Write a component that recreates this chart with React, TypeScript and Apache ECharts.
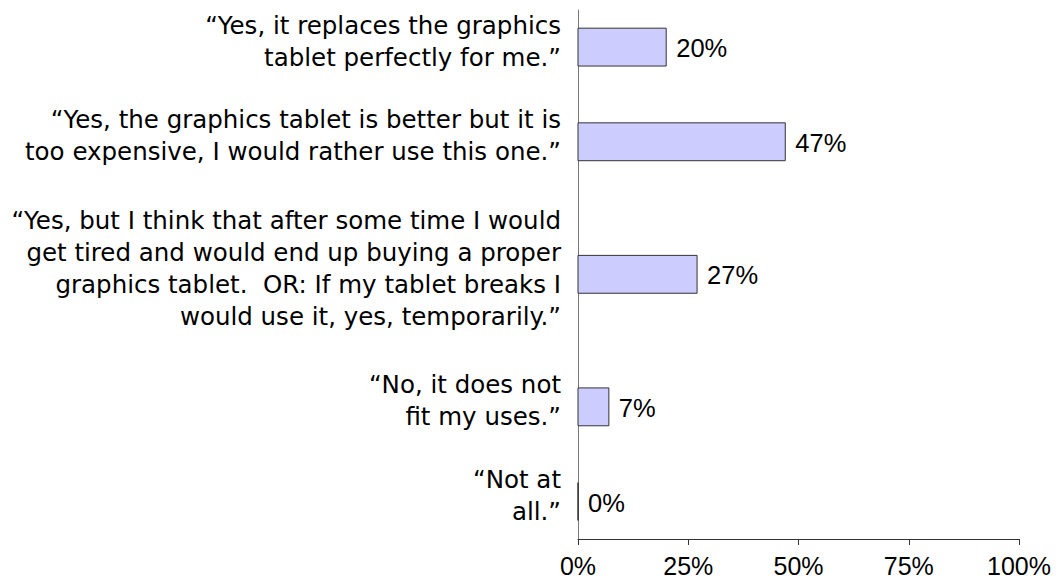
import React, { useEffect, useRef } from "react";
import * as echarts from "echarts";

const categories: string[] = [
  "“Yes, it replaces the graphics\ntablet perfectly for me.”",
  "“Yes, the graphics tablet is better but it is\ntoo expensive, I would rather use this one.”",
  "“Yes, but I think that after some time I would\nget tired and would end up buying a proper\ngraphics tablet.  OR: If my tablet breaks I\nwould use it, yes, temporarily.”",
  "“No, it does not\nfit my uses.”",
  "“Not at\nall.”",
];
const percentages: number[] = [20, 47, 27, 7, 0];
const xTicks: number[] = [0, 25, 50, 75, 100];

const CAT_FONT = "DejaVu Sans";
const NUM_FONT = "Liberation Sans";

export default function App() {
  const ref = useRef<HTMLDivElement>(null);
  useEffect(() => {
    if (!ref.current) return;
    const chart = echarts.init(ref.current, undefined, { renderer: "svg" });
    // row position derived from the number of label lines (each row takes lines + 0.5 units)
    const lines = categories.map((c) => c.split("\n").length);
    const centers: number[] = [];
    let acc = 0;
    lines.forEach((n, i) => {
      const h = n + 0.5;
      if (i === 0) acc = h / 2;
      else acc += (lines[i - 1] + 0.5) / 2 + h / 2;
      centers.push(acc);
    });
    const yMin = centers[0] - 0.98;
    const yMax = centers[centers.length - 1] + 0.99;

    chart.setOption({
      animation: false,
      grid: { left: 578, right: 43, top: 10, bottom: 45, containLabel: false },
      xAxis: {
        type: "value",
        min: 0,
        max: 100,
        interval: 25,
        axisLine: { show: true, lineStyle: { color: "#333", width: 1 } },
        axisTick: { show: true, length: 6, lineStyle: { color: "#333" } },
        splitLine: { show: false },
        axisLabel: {
          formatter: (v: number) => (xTicks.includes(v) ? `${v}%` : ""),
          color: "#000",
          fontFamily: NUM_FONT,
          fontSize: 25,
          margin: 14,
        },
      },
      yAxis: {
        type: "value",
        inverse: true,
        min: yMin,
        max: yMax,
        axisLine: { show: true, onZero: false, lineStyle: { color: "#777", width: 1 } },
        axisTick: { show: false },
        axisLabel: { show: false },
        splitLine: { show: false },
      },
      series: [
        {
          type: "custom",
          coordinateSystem: "cartesian2d",
          data: percentages.map((v, i) => [v, centers[i], i]),
          encode: { x: 0, y: 1 },
          clip: false,
          renderItem: (params: any, api: any) => {
            const v = api.value(0);
            const yc = api.value(1);
            const idx = api.value(2);
            const p0 = api.coord([0, yc]);
            const p1 = api.coord([v, yc]);
            const thick = api.size([0, 1])[1];
            return {
              type: "group",
              children: [
                {
                  type: "rect",
                  shape: { x: p0[0], y: p0[1] - thick / 2, width: p1[0] - p0[0], height: thick },
                  style: { fill: "#ccccff", stroke: "#333", lineWidth: 1 },
                },
                {
                  type: "text",
                  x: p1[0] + 10,
                  y: p1[1] + 1,
                  style: {
                    text: `${v}%`,
                    align: "left",
                    verticalAlign: "middle",
                    fill: "#000",
                    fontFamily: NUM_FONT,
                    fontSize: 25.5,
                  },
                },
                {
                  type: "text",
                  x: p0[0] - 17,
                  y: p0[1] - 6,
                  style: {
                    text: categories[idx],
                    align: "right",
                    verticalAlign: "middle",
                    fill: "#000",
                    fontFamily: CAT_FONT,
                    fontSize: 24.5,
                    lineHeight: 32,
                  },
                },
              ],
            };
          },
        },
      ],
    });
    return () => chart.dispose();
  }, []);
  return <div ref={ref} style={{ width: 1062, height: 584, position: "absolute", left: 0, top: 0 }} />;
}
